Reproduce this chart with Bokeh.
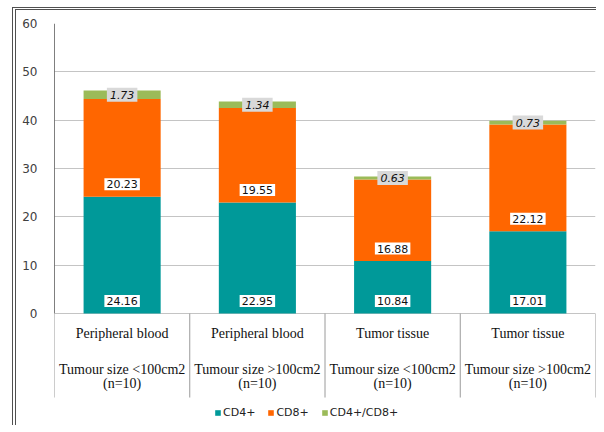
from bokeh.plotting import figure
from bokeh.models import Range1d, FixedTicker, Legend, LegendItem, ColumnDataSource
from bokeh.core.properties import value
from bokeh.embed import file_html
from bokeh.resources import INLINE

# ---- data ----
sites = ["Peripheral blood", "Peripheral blood", "Tumor tissue", "Tumor tissue"]
sizes = ["Tumour size <100cm2", "Tumour size >100cm2", "Tumour size <100cm2", "Tumour size >100cm2"]
counts = ["(n=10)", "(n=10)", "(n=10)", "(n=10)"]
series = ["CD4+", "CD8+", "CD4+/CD8+"]
cd4 = [24.16, 22.95, 10.84, 17.01]
cd8 = [20.23, 19.55, 16.88, 22.12]
cd4cd8 = [1.73, 1.34, 0.63, 0.73]
y_ticks = [0, 10, 20, 30, 40, 50, 60]

colors = ["#009999", "#ff6600", "#9bbb59"]

n = len(sites)
xs = [i + 0.5 for i in range(n)]
top1 = cd4
top2 = [a + b for a, b in zip(cd4, cd8)]
top3 = [a + b + c for a, b, c in zip(cd4, cd8, cd4cd8)]

src = ColumnDataSource(dict(
    x=xs, cd4=cd4, cd8=cd8, cd4cd8=cd4cd8,
    cd4_lbl=[f"{v:.2f}" for v in cd4],
    cd8_lbl=[f"{v:.2f}" for v in cd8],
    dp_lbl=[f"{v:.2f}" for v in cd4cd8],
    base0=[0] * n, base1=top1, mid3=[(a + b) / 2 for a, b in zip(top2, top3)],
    site=sites, size=sizes, cnt=counts, zero=[0] * n,
))

W, H = 584, 418
p = figure(width=W, height=H, output_backend="svg", toolbar_location=None,
           x_range=Range1d(0, n), y_range=Range1d(-23.79, 60),
           x_axis_type=None,
           min_border_left=38, min_border_right=5, min_border_top=13, min_border_bottom=0)
p.styles = {"margin-left": "12px", "margin-top": "7px",
            "border-left": "4px double #505050", "border-top": "3px double #505050"}
p.outline_line_color = None
p.background_fill_color = "white"
p.border_fill_color = "white"

# y axis
p.yaxis.ticker = FixedTicker(ticks=y_ticks)
p.yaxis.axis_line_color = None
p.yaxis.major_tick_line_color = None
p.yaxis.minor_tick_line_color = None
p.yaxis.major_label_standoff = 11
p.yaxis.major_label_text_font = "DejaVu Sans"
p.yaxis.major_label_text_font_size = "12px"
p.yaxis.major_label_text_color = "#404040"
p.ygrid.ticker = FixedTicker(ticks=y_ticks)
p.ygrid.grid_line_color = "#c4c4c4"
p.ygrid.grid_line_width = 1
p.xgrid.visible = False

# axis line (0..60) and category separators
p.segment(x0=[0], y0=[y_ticks[0]], x1=[0], y1=[y_ticks[-1]], line_color="black", line_width=1)
p.segment(x0=list(range(n + 1)), y0=[0] * (n + 1), x1=list(range(n + 1)), y1=[-17.38] * (n + 1),
          line_color="#9a9a9a", line_width=1)

# stacked bars
rs = p.vbar_stack(["cd4", "cd8", "cd4cd8"], x="x", width=0.57, source=src,
                  color=colors, line_color=None)

# data labels
common = dict(text_align="center", text_baseline="middle", text_font=value("DejaVu Sans"),
              text_font_size="11px", text_color="#111111")
p.text(x="x", y="base0", text="cd4_lbl", source=src, y_offset=-12.5,
       background_fill_color="white", padding=2, **common)
p.text(x="x", y="base1", text="cd8_lbl", source=src, y_offset=-12.5,
       background_fill_color="white", padding=2, **common)
p.text(x="x", y="mid3", text="dp_lbl", source=src, text_font_style="italic",
       background_fill_color="#d9d9d9", padding=3, **common)

# category labels
cat = dict(text_align="center", text_baseline="middle", text_font=value("Liberation Serif"),
           text_font_size="14px", text_color="#111111")
p.text(x="x", y="zero", text="site", source=src, y_offset=20, **cat)
p.text(x="x", y="zero", text="size", source=src, y_offset=55.5, **cat)
p.text(x="x", y="zero", text="cnt", source=src, y_offset=70, **cat)

legend = Legend(items=[LegendItem(label=s, renderers=[r]) for s, r in zip(series, rs)],
                orientation="horizontal", location=(160, 9),
                glyph_width=7, glyph_height=7, label_standoff=2, spacing=12,
                padding=0, margin=0, border_line_color=None, background_fill_alpha=0,
                label_text_font="DejaVu Sans", label_text_font_size="11px",
                label_text_color="#222222", label_height=14)
p.add_layout(legend)

open("out.html", "w").write(file_html(p, INLINE))
